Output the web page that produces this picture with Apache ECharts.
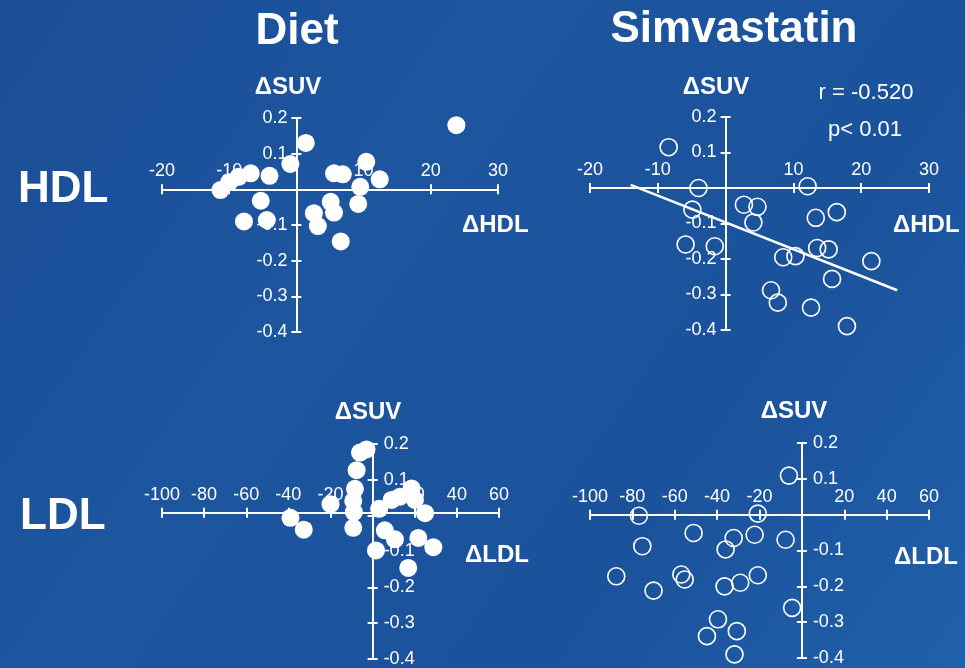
<!DOCTYPE html>
<html>
<head>
<meta charset="utf-8">
<title>ΔSUV vs ΔHDL / ΔLDL</title>
<script src="https://cdn.jsdelivr.net/npm/echarts@6/dist/echarts.min.js"></script>
<style>
  html, body { margin: 0; padding: 0; background: #1c54a0; }
  #chart { width: 965px; height: 668px; }
</style>
</head>
<body>
<div id="chart"></div>
<script>
// Diet group, change in HDL vs change in SUV
const dietHdlX = [23.8, 1.4, -0.9, -4.0, -6.8, -8.6, -10.0, -11.3, -5.3, -7.8, -4.4, 2.6, 3.2, 5.1, 5.6, 6.6, 5.6, 6.9, 10.4, 12.4, 9.5, 9.2];
const dietHdlY = [0.180, 0.130, 0.071, 0.038, 0.045, 0.035, 0.020, -0.002, -0.032, -0.090, -0.086, -0.067, -0.103, -0.035, -0.065, -0.146, 0.045, 0.042, 0.077, 0.028, 0.007, -0.041];

// Simvastatin group, change in HDL vs change in SUV
const simHdlX = [-8.4, -4.0, 12.1, -4.9, 2.7, 4.7, 4.1, 13.3, 16.4, -5.9, -1.6, 8.5, 10.3, 13.5, 15.2, 21.5, 15.7, 6.7, 7.7, 12.6, 17.9];
const simHdlY = [0.115, 0.000, 0.005, -0.061, -0.047, -0.053, -0.097, -0.084, -0.068, -0.159, -0.164, -0.195, -0.192, -0.169, -0.173, -0.206, -0.256, -0.288, -0.323, -0.337, -0.389];

// Regression line for the simvastatin HDL panel
const simHdlFitX = [-14.0, 25.3];
const simHdlFitY = [0.009, -0.288];
const simHdlStats = ['r = -0.520', 'p< 0.01'];

// Diet group, change in LDL vs change in SUV
const dietLdlX = [-6.0, -2.9, -7.6, -8.4, -9.2, -8.9, -9.2, -20.0, -39.0, -32.7, 3.1, 9.0, 13.0, 18.5, 20.1, 24.9, 5.8, 10.6, 1.6, 21.7, 28.8, 16.9];
const dietLdlY = [0.176, 0.185, 0.127, 0.075, 0.041, 0.010, -0.034, 0.032, -0.006, -0.039, 0.019, 0.044, 0.053, 0.076, 0.044, 0.007, -0.041, -0.066, -0.097, -0.062, -0.088, -0.146];

// Simvastatin group, change in LDL vs change in SUV
const simLdlX = [-6.1, -76.9, -20.8, -51.1, -75.3, -32.2, -36.0, -22.3, -7.7, -87.6, -70.0, -56.9, -55.3, -36.5, -29.1, -20.8, -4.6, -39.6, -44.8, -30.7, -31.8];
const simLdlY = [0.109, -0.003, 0.003, -0.051, -0.088, -0.065, -0.097, -0.056, -0.070, -0.172, -0.212, -0.167, -0.181, -0.200, -0.190, -0.169, -0.260, -0.292, -0.339, -0.325, -0.390];

// Axis ranges and headings
const hdlRange = [-20, 30, 10];
const ldlRange = [-100, 60, 20];
const suvRange = [-0.4, 0.2, 0.1];
const columnTitles = ['Diet', 'Simvastatin'];
const rowTitles = ['HDL', 'LDL'];
const suvName = 'ΔSUV';
const xNames = ['ΔHDL', 'ΔLDL'];

const FONT = "'Liberation Sans', Arial, Helvetica, sans-serif";
const WHITE = '#ffffff';

const pairs = (xs, ys) => xs.map((x, i) => [x, ys[i]]);

// Panel boxes: grid rectangle, which x range, where y labels sit
const panels = [
  { rect: { left: 162, top: 118, width: 336, height: 214 }, xr: hdlRange, yInside: false },
  { rect: { left: 590, top: 117, width: 339, height: 213 }, xr: hdlRange, yInside: false },
  { rect: { left: 162, top: 444, width: 337, height: 218 }, xr: ldlRange, yInside: true },
  { rect: { left: 590, top: 443, width: 339, height: 215 }, xr: ldlRange, yInside: true }
];

const grids = [];
const xAxes = [];
const yAxes = [];

panels.forEach((p, i) => {
  grids.push(Object.assign({ containLabel: false }, p.rect));
  const tickStyle = { color: WHITE, width: 2 };
  const xBase = {
    gridIndex: i, type: 'value', position: 'bottom', offset: 0,
    min: p.xr[0], max: p.xr[1], interval: p.xr[2],
    splitLine: { show: false }
  };
  const yBase = {
    gridIndex: i, type: 'value', position: 'left', offset: 0,
    min: suvRange[0], max: suvRange[1], interval: suvRange[2],
    splitLine: { show: false }
  };
  // main x axis: line, labels above the line, ticks below
  xAxes.push(Object.assign({}, xBase, {
    axisLine: { show: true, onZero: false, lineStyle: { color: WHITE, width: 2 } },
    axisTick: { show: true, inside: false, length: 5, lineStyle: tickStyle },
    axisLabel: {
      show: true, inside: true, margin: 9, color: WHITE, fontSize: 18, fontFamily: FONT,
      formatter: v => (Math.abs(v) < 1e-9 ? '' : String(Math.round(v)))
    }
  }));
  // companion x axis: ticks above the line so they cross it
  xAxes.push(Object.assign({}, xBase, {
    axisLine: { show: false, onZero: false },
    axisTick: { show: true, inside: true, length: 5, lineStyle: tickStyle },
    axisLabel: { show: false }
  }));
  // main y axis
  yAxes.push(Object.assign({}, yBase, {
    axisLine: { show: true, onZero: false, lineStyle: { color: WHITE, width: 2 } },
    axisTick: { show: true, inside: p.yInside, length: 5, lineStyle: tickStyle },
    axisLabel: {
      show: true, inside: p.yInside, margin: p.yInside ? 11 : 9, color: WHITE, fontSize: 18, fontFamily: FONT,
      formatter: v => (Math.abs(v) < 1e-9 ? '' : v.toFixed(1))
    }
  }));
  // companion y axis: ticks on the other side
  yAxes.push(Object.assign({}, yBase, {
    axisLine: { show: false, onZero: false },
    axisTick: { show: true, inside: !p.yInside, length: 5, lineStyle: tickStyle },
    axisLabel: { show: false }
  }));
});

const filled = (i, data) => ({
  type: 'scatter', xAxisIndex: 2 * i, yAxisIndex: 2 * i, data,
  symbol: 'circle', symbolSize: 18, z: 5, silent: true,
  itemStyle: { color: WHITE, opacity: 1 }
});
const hollow = (i, data) => ({
  type: 'scatter', xAxisIndex: 2 * i, yAxisIndex: 2 * i, data,
  symbol: 'circle', symbolSize: 17, z: 5, silent: true,
  itemStyle: { color: 'rgba(0,0,0,0)', borderColor: WHITE, borderWidth: 1.6, opacity: 1 }
});

const series = [
  filled(0, pairs(dietHdlX, dietHdlY)),
  hollow(1, pairs(simHdlX, simHdlY)),
  {
    type: 'line', xAxisIndex: 2, yAxisIndex: 2, data: pairs(simHdlFitX, simHdlFitY),
    symbol: 'none', z: 4, silent: true, animation: false,
    lineStyle: { color: WHITE, width: 2.5 }
  },
  filled(2, pairs(dietLdlX, dietLdlY)),
  hollow(3, pairs(simLdlX, simLdlY))
];

const txt = (text, x, y, size, weight, align) => ({
  type: 'text', x, y, z: 10, silent: true,
  style: {
    text, fill: WHITE, font: `${weight} ${size}px ${FONT}`,
    textAlign: align || 'center', textVerticalAlign: 'middle'
  }
});

const graphic = [
  {
    type: 'rect', z: -100, silent: true,
    shape: { x: 0, y: 0, width: 965, height: 668 },
    style: {
      fill: {
        type: 'linear', x: 0, y: 0, x2: 1, y2: 1,
        colorStops: [
          { offset: 0, color: '#1a4e96' },
          { offset: 0.35, color: '#1d559f' },
          { offset: 0.7, color: '#1b529c' },
          { offset: 1, color: '#2160aa' }
        ]
      }
    }
  },
  txt(columnTitles[0], 297, 32, 44, 'bold'),
  txt(columnTitles[1], 734, 30, 44, 'bold'),
  txt(rowTitles[0], 18, 190, 44, 'bold', 'left'),
  txt(rowTitles[1], 20, 517, 44, 'bold', 'left'),
  txt(suvName, 288, 87, 24, 'bold'),
  txt(suvName, 716, 87, 24, 'bold'),
  txt(suvName, 368, 412, 24, 'bold'),
  txt(suvName, 794, 411, 24, 'bold'),
  txt(xNames[0], 462, 225, 24, 'bold', 'left'),
  txt(xNames[0], 893, 225, 24, 'bold', 'left'),
  txt(xNames[1], 465, 555, 24, 'bold', 'left'),
  txt(xNames[1], 894, 557, 24, 'bold', 'left'),
  txt(simHdlStats[0], 866, 93, 22, 'normal'),
  txt(simHdlStats[1], 865, 130, 22, 'normal')
];

const chart = echarts.init(document.getElementById('chart'), null, { renderer: 'canvas' });
chart.setOption({
  animation: false,
  backgroundColor: 'transparent',
  grid: grids,
  xAxis: xAxes,
  yAxis: yAxes,
  series,
  graphic
});

// Move each panel's axes so they cross at the data origin (0, 0)
const xFix = [];
const yFix = [];
panels.forEach((p, i) => {
  const origin = chart.convertToPixel({ xAxisIndex: 2 * i, yAxisIndex: 2 * i }, [0, 0]);
  const bottom = p.rect.top + p.rect.height;
  const xOff = -(bottom - origin[1]);
  const yOff = -(origin[0] - p.rect.left);
  xFix.push({ offset: xOff }, { offset: xOff });
  yFix.push({ offset: yOff }, { offset: yOff });
});
chart.setOption({ xAxis: xFix, yAxis: yFix });
</script>
</body>
</html>
